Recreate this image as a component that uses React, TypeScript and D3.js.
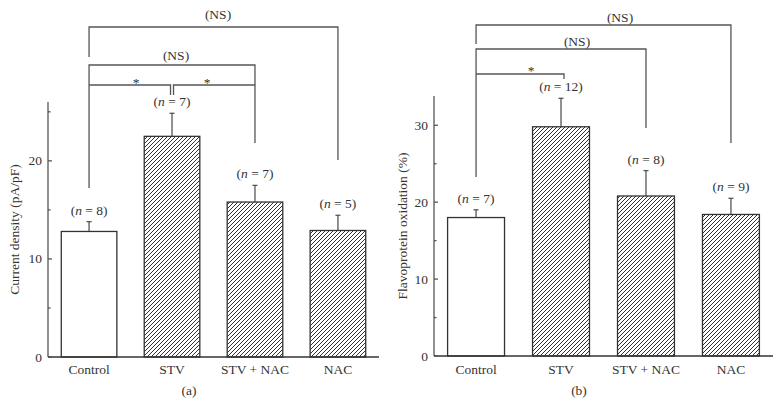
import React from "react";
import * as d3 from "d3";

const categories = ["Control", "STV", "STV + NAC", "NAC"];
const currentDensity = [12.8, 22.5, 15.8, 12.9];
const currentDensityErr = [1.0, 2.35, 1.7, 1.55];
const currentN = ["8", "7", "7", "5"];
const flavoOx = [18.0, 29.8, 20.8, 18.4];
const flavoOxErr = [1.0, 3.7, 3.3, 2.1];
const flavoN = ["7", "12", "8", "9"];
const leftMajorTicks = [0, 10, 20];
const leftMinorTicks = [5, 15, 25];
const rightMajorTicks = [0, 10, 20, 30];
const rightMinorTicks = [5, 15, 25];

const FONT = "'Liberation Serif', 'Times New Roman', serif";
const FS = 13.5;
const INK = "#333";
const LINE = "#555";

type PanelProps = {
  x0: number;
  x1: number;
  yTop: number;
  yBottom: number;
  yMax: number;
  values: number[];
  errs: number[];
  ns: string[];
  major: number[];
  minor: number[];
  yLabel: string;
  yLabelX: number;
  letter: string;
  letterX: number;
  brackets: (x: (c: string) => number) => React.ReactNode;
};

function Panel(p: PanelProps) {
  const xs = d3
    .scaleBand<string>()
    .domain(categories)
    .range([p.x0, p.x1])
    .paddingInner(0.33)
    .paddingOuter(0.16);
  const y = d3.scaleLinear().domain([0, p.yMax]).range([p.yBottom, p.yTop]);
  const cx = (c: string) => (xs(c) as number) + xs.bandwidth() / 2;
  const yMid = (p.yTop + p.yBottom) / 2;
  return (
    <g>
      {categories.map((c, i) => {
        const top = y(p.values[i]);
        const et = y(p.values[i] + p.errs[i]);
        return (
          <g key={c}>
            <line x1={cx(c)} x2={cx(c)} y1={top} y2={et} stroke={LINE} strokeWidth={1.3} />
            <line x1={cx(c) - 2.5} x2={cx(c) + 2.5} y1={et} y2={et} stroke={LINE} strokeWidth={1.3} />
            <rect
              x={xs(c)}
              y={top}
              width={xs.bandwidth()}
              height={y(0) - top}
              fill={i === 0 ? "#fff" : "url(#hatch)"}
              stroke={INK}
              strokeWidth={1.3}
            />
            <text x={cx(c)} y={et - 7} textAnchor="middle" fontFamily={FONT} fontSize={FS} fill={INK}>
              (<tspan fontStyle="italic">n</tspan> = {p.ns[i]})
            </text>
            <text x={cx(c)} y={373.5} textAnchor="middle" fontFamily={FONT} fontSize={FS} fill={INK}>
              {c}
            </text>
          </g>
        );
      })}
      <line x1={p.x0} x2={p.x0} y1={p.yTop} y2={p.yBottom} stroke={LINE} strokeWidth={1.3} />
      <line x1={p.x0} x2={p.x1} y1={p.yBottom} y2={p.yBottom} stroke={INK} strokeWidth={1.3} />
      {p.major.map((t) => (
        <g key={"M" + t}>
          <line x1={p.x0} x2={p.x0 + 4} y1={y(t)} y2={y(t)} stroke={LINE} strokeWidth={1.3} />
          <text x={p.x0 - 6} y={y(t) + 4.5} textAnchor="end" fontFamily={FONT} fontSize={FS} fill={INK}>
            {t}
          </text>
        </g>
      ))}
      {p.minor.map((t) => (
        <line key={"m" + t} x1={p.x0} x2={p.x0 + 2.5} y1={y(t)} y2={y(t)} stroke={LINE} strokeWidth={1.3} />
      ))}
      <text
        transform={`translate(${p.yLabelX},${yMid}) rotate(-90)`}
        textAnchor="middle"
        dy="0.35em"
        fontFamily={FONT}
        fontSize={FS}
        fill={INK}
      >
        {p.yLabel}
      </text>
      <text x={p.letterX} y={395} textAnchor="middle" fontFamily={FONT} fontSize={FS} fill={INK}>
        {p.letter}
      </text>
      {p.brackets(cx)}
    </g>
  );
}

const txt = (x: number, y: number, s: string) => (
  <text x={x} y={y} textAnchor="middle" fontFamily={FONT} fontSize={FS} fill={INK}>
    {s}
  </text>
);

export default function App() {
  return (
    <svg
      width={782}
      height={404}
      style={{ position: "absolute", left: 0, top: 0, background: "#fff" }}
    >
      <defs>
        <pattern id="hatch" patternUnits="userSpaceOnUse" width={4} height={4}>
          <rect width={4} height={4} fill="#fff" />
          <path d="M-1,1 l2,-2 M0,4 l4,-4 M3,5 l2,-2" stroke="#333" strokeWidth={1} />
        </pattern>
      </defs>
      <Panel
        x0={48}
        x1={379}
        yTop={102}
        yBottom={357}
        yMax={26}
        values={currentDensity}
        errs={currentDensityErr}
        ns={currentN}
        major={leftMajorTicks}
        minor={leftMinorTicks}
        yLabel="Current density (pA/pF)"
        yLabelX={14}
        letter="(a)"
        letterX={189}
        brackets={(cx) => {
          const a = cx("Control");
          const b = cx("STV");
          const c = cx("STV + NAC");
          const d = cx("NAC");
          const ps = { stroke: LINE, strokeWidth: 1.3, fill: "none" };
          return (
            <g>
              <path d={`M${a},57 V27 H${d} V160`} {...ps} />
              <path d={`M${a},188 V65 H${c} V143`} {...ps} />
              <path d={`M${a},85 H${b - 1.5} V95`} {...ps} />
              <path d={`M${c},85 H${b + 1.5} V95`} {...ps} />
              {txt(218, 18.5, "(NS)")}
              {txt(176, 59.5, "(NS)")}
              {txt(136, 87, "*")}
              {txt(207, 87, "*")}
            </g>
          );
        }}
      />
      <Panel
        x0={434}
        x1={773}
        yTop={96}
        yBottom={356}
        yMax={33.8}
        values={flavoOx}
        errs={flavoOxErr}
        ns={flavoN}
        major={rightMajorTicks}
        minor={rightMinorTicks}
        yLabel="Flavoprotein oxidation (%)"
        yLabelX={402}
        letter="(b)"
        letterX={579}
        brackets={(cx) => {
          const a = cx("Control");
          const b = cx("STV");
          const c = cx("STV + NAC");
          const d = cx("NAC");
          const ps = { stroke: LINE, strokeWidth: 1.3, fill: "none" };
          return (
            <g>
              <path d={`M${a},44 V25 H${d} V143`} {...ps} />
              <path d={`M${a},177 V49 H${c} V128`} {...ps} />
              <path d={`M${a},74 H${b + 3} V79`} {...ps} />
              {txt(620, 21.5, "(NS)")}
              {txt(577, 45.5, "(NS)")}
              {txt(531, 74.5, "*")}
            </g>
          );
        }}
      />
    </svg>
  );
}
